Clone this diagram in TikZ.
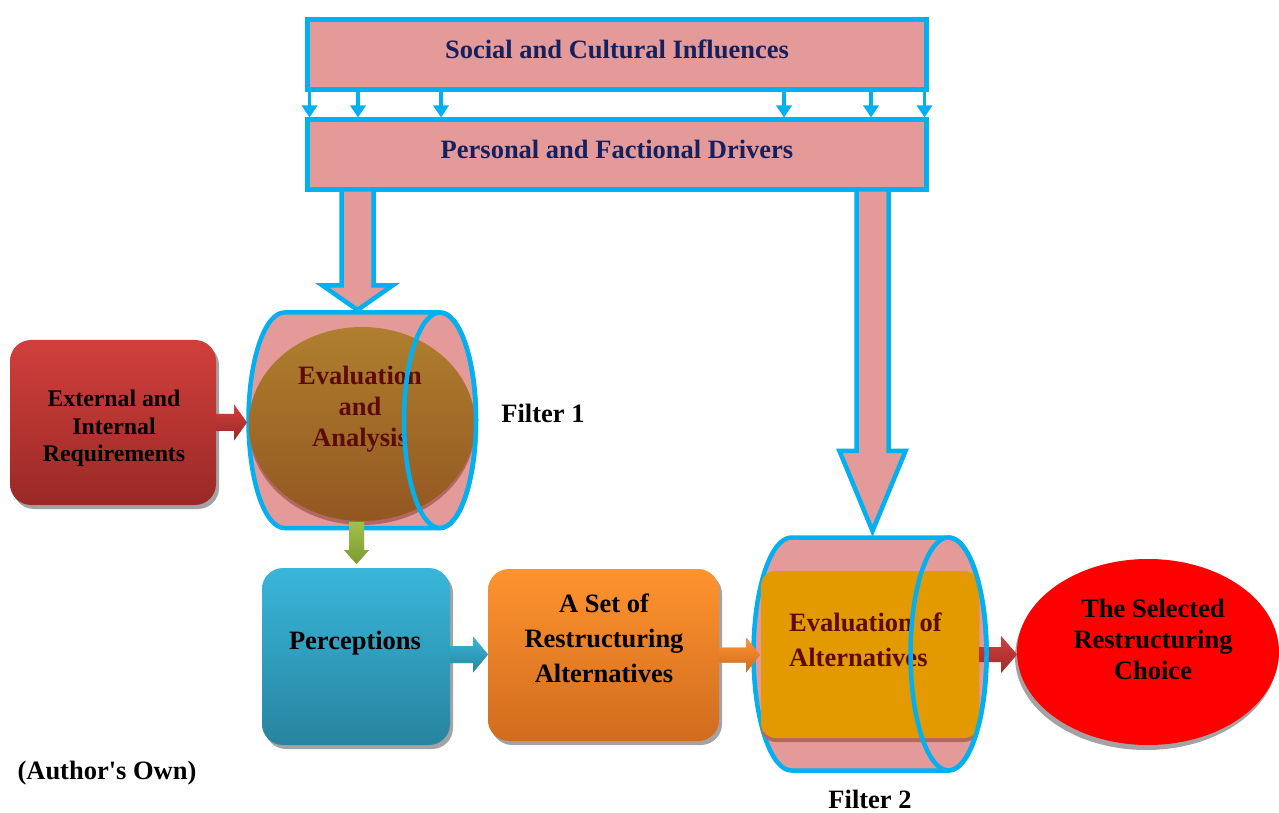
\documentclass[tikz,border=0pt]{standalone}
\usepackage{fontspec}
\setmainfont{Liberation Serif}
\usetikzlibrary{arrows.meta,calc,shapes.geometric}
\definecolor{cyanb}{HTML}{00B0F0}
\definecolor{pinkf}{HTML}{E59A9A}
\definecolor{navy}{HTML}{14215E}
\definecolor{dred}{HTML}{5C0A0A}
\definecolor{extTop}{HTML}{D13F3B}
\definecolor{extBot}{HTML}{9A2927}
\definecolor{percTop}{HTML}{39B6DA}
\definecolor{percBot}{HTML}{27849F}
\definecolor{oraTop}{HTML}{FF932F}
\definecolor{oraBot}{HTML}{D06C1E}
\definecolor{brTop}{HTML}{AF7F2E}
\definecolor{brBot}{HTML}{935721}
\definecolor{goldf}{HTML}{E39A00}
\definecolor{rimred}{HTML}{B36763}
\definecolor{grTop}{HTML}{A3C04A}
\definecolor{grBot}{HTML}{7B9B30}
\definecolor{raTop}{HTML}{D04040}
\definecolor{raBot}{HTML}{A02A2A}
\definecolor{shgray}{HTML}{A3A3A3}
\newcommand\hblock[6]{\path[#6] let \p1=(#1), \p2=(#2) in
  (\x1,\y1+#3) -- (\x2-#5,\y1+#3) -- (\x2-#5,\y1+#4) -- (\x2,\y1) --
  (\x2-#5,\y1-#4) -- (\x2-#5,\y1-#3) -- (\x1,\y1-#3) -- cycle;}
\newcommand\vblock[6]{\path[#6] let \p1=(#1), \p2=(#2) in
  (\x1-#3,\y1) -- (\x1-#3,\y2+#5) -- (\x1-#4,\y2+#5) -- (\x1,\y2) --
  (\x1+#4,\y2+#5) -- (\x1+#3,\y2+#5) -- (\x1+#3,\y1) -- cycle;}
\begin{document}
\begin{tikzpicture}[x=1pt,y=1pt,
  bandbox/.style={draw=cyanb, line width=5pt, fill=pinkf, minimum width=619pt,
    minimum height=70pt, inner sep=0pt, outer sep=0pt},
  bandtext/.style={font=\bfseries\fontsize{26.5}{31}\selectfont, text=navy},
  smallarr/.style={draw=cyanb, line width=3.5pt, -{Triangle[width=15pt,length=12pt]}},
  bigarr/.style={draw=cyanb, line width=4.5pt, fill=pinkf, line join=miter},
  cylbody/.style={draw=cyanb, line width=4.5pt, fill=pinkf},
  rimline/.style={draw=cyanb, line width=4.5pt},
  roundbox/.style={rounded corners=21pt, inner sep=0pt, outer sep=0pt},
  lbl/.style={font=\bfseries\fontsize{26.5}{31}\selectfont, align=center},
  shadow/.style={fill=shgray, xshift=3pt, yshift=-4pt}
]
\useasboundingbox (0,0) rectangle (1279,812);

% top bands
\node[bandbox] (soc) at (617,757.5) {};
\node[bandbox] (pers) at (617,657.5) {};
\node[bandtext] (socT) at ([yshift=5pt]soc.center) {Social and Cultural Influences};
\node[bandtext] (persT) at ([yshift=5pt]pers.center) {Personal and Factional Drivers};
\foreach \x in {309.5,358,441,784,871,924.5}
  \draw[smallarr, shorten >=2pt] (soc.south -| \x,0) -- (pers.north -| \x,0);

% big pink arrows
\coordinate (c1top) at (357.5,502);
\coordinate (c2top) at (872.5,281);
\vblock{pers.south -| c1top}{c1top}{16}{35}{24.5}{bigarr}
\vblock{pers.south -| c2top}{c2top}{16}{33}{80}{bigarr}

% external requirements
\node[roundbox, fill=shgray, minimum width=206pt, minimum height=165pt] (extsh) at (116,385.5) {};
\node[roundbox, top color=extTop, bottom color=extBot, minimum width=206pt, minimum height=165pt] (ext) at (113,389.5) {};
\node[lbl, font=\bfseries\fontsize{23.8}{27.5}\selectfont] (extT) at (114,383.5) {External and\\Internal\\Requirements};

% filter 1 cylinder
\path[cylbody] (284.5,499.5) -- (440,499.5)
  arc[start angle=90,end angle=-90,x radius=36,y radius=107.75] -- (284.5,284)
  arc[start angle=270,end angle=90,x radius=36,y radius=107.75] -- cycle;
\coordinate (c1w) at (247,389.5);
\hblock{ext.east}{c1w}{8.5}{18}{13}{shadow}
\hblock{ext.east}{c1w}{8.5}{18}{13}{top color=extTop, bottom color=extBot}
\node[ellipse, fill=rimred, minimum width=226pt, minimum height=194pt, inner sep=0pt] (evalsh) at (362,384) {};
\node[ellipse, top color=brTop, bottom color=brBot, minimum width=226pt, minimum height=194pt, inner sep=0pt] (evalA) at (362,388) {};
\node[lbl, text=dred] (evalT) at (360,402.5) {Evaluation\\and\\Analysis};
\draw[rimline] (440,391.75) ellipse [x radius=36, y radius=107.75];
\node[lbl] (f1) at (543,399) {Filter 1};

% green arrow
\coordinate (gstart) at (356.5,290);
\coordinate (gtip) at (356.5,248);
\vblock{gstart}{gtip}{7.5}{12.5}{14}{shadow}
\vblock{gstart}{gtip}{7.5}{12.5}{14}{top color=grTop, bottom color=grBot}

% perceptions and alternatives
\node[roundbox, fill=shgray, minimum width=188pt, minimum height=177pt] (percsh) at (359,151.5) {};
\node[roundbox, top color=percTop, bottom color=percBot, minimum width=188pt, minimum height=177pt] (perc) at (356,155.5) {};
\node[lbl] (percT) at (355,169) {Perceptions};
\node[roundbox, fill=shgray, minimum width=231pt, minimum height=172pt] (astrsh) at (606.5,153) {};
\node[roundbox, top color=oraTop, bottom color=oraBot, minimum width=231pt, minimum height=172pt] (astr) at (603.5,157) {};
\node[lbl, font=\bfseries\fontsize{26.5}{35}\selectfont] (astrT) at (604,174) {A Set of\\Restructuring\\Alternatives};
\hblock{[yshift=2pt]perc.east}{astr.west}{8.5}{18}{15}{shadow}
\hblock{[yshift=2pt]perc.east}{astr.west}{8.5}{18}{15}{top color=percTop, bottom color=percBot}

% filter 2 cylinder
\path[cylbody] (791.5,274.5) -- (948.5,274.5)
  arc[start angle=90,end angle=-90,x radius=38,y radius=116.5] -- (791.5,41.5)
  arc[start angle=270,end angle=90,x radius=38,y radius=116.5] -- cycle;
\coordinate (c2w) at (760,157);
\hblock{astr.east}{c2w}{7.5}{17.5}{14}{shadow}
\hblock{astr.east}{c2w}{7.5}{17.5}{14}{top color=oraTop, bottom color=oraBot}
\node[rounded corners=15pt, fill=rimred, minimum width=218pt, minimum height=167pt, inner sep=0pt] (goldsh) at (870,153.5) {};
\node[rounded corners=15pt, fill=goldf, minimum width=218pt, minimum height=167pt, inner sep=0pt, outer sep=0pt] (gold) at (870,157.5) {};
\node[lbl, font=\bfseries\fontsize{26.5}{35}\selectfont, text=dred, align=left, anchor=west, inner sep=0pt] (goldT) at (789,172.5) {Evaluation of\\Alternatives};

% choice ellipse
\node[ellipse, fill=shgray, minimum width=262pt, minimum height=186pt, inner sep=0pt] (choicesh) at (1146,155) {};
\node[ellipse, fill=red, minimum width=262pt, minimum height=186pt, inner sep=0pt, outer sep=0pt] (choice) at (1148,160) {};
\hblock{gold.east}{choice.west}{7.5}{18.5}{16}{shadow}
\hblock{gold.east}{choice.west}{7.5}{18.5}{16}{top color=raTop, bottom color=raBot}
\draw[rimline] (948.5,158) ellipse [x radius=38, y radius=116.5];
\node[lbl] (choiceT) at (1153,173) {The Selected\\Restructuring\\Choice};
\node[lbl, anchor=base, inner sep=0pt] (f2) at (870,4) {Filter 2};

\node[lbl] (auth) at (107,39) {(Author\textquotesingle s Own)};
\end{tikzpicture}
\end{document}
